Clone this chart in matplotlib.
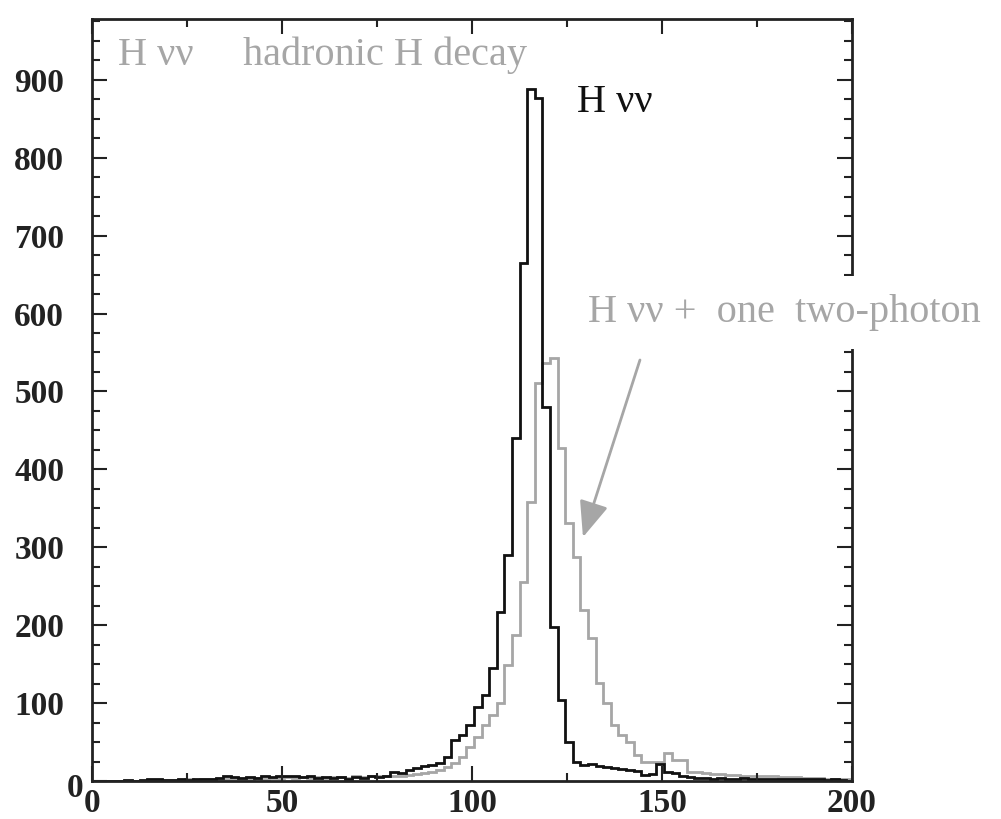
import numpy as np
import matplotlib
matplotlib.use("Agg")
import matplotlib.pyplot as plt
from matplotlib.transforms import ScaledTranslation

plt.rcParams['font.family'] = ['Liberation Serif', 'DejaVu Serif']

# bin edges (width 2) and contents
bin_edges = np.arange(-1.5, 201.0, 2.0)

# H vv, hadronic H decay (black)
h_had = [0, 0, 0, 0, 0, 1, 0, 1, 2, 3,
         1, 1, 2, 1, 2, 3, 2, 4, 6, 5,
         4, 5, 4, 7, 5, 6, 7, 6, 5, 6,
         4, 5, 4, 5, 3, 5, 4, 6, 5, 6,
         12, 10, 14, 17, 19, 21, 23, 31, 53, 59,
         72, 95, 110, 145, 217, 290, 440, 665, 888, 876,
         480, 198, 104, 50, 24, 20, 22, 19, 18, 17,
         15, 14, 13, 8, 9, 22, 12, 10, 6, 5,
         4, 4, 3, 4, 3, 3, 4, 2, 3, 3,
         2, 3, 2, 2, 3, 2, 2, 1, 2, 1, 0]

# H vv + one two-photon (grey)
h_gam = [0, 0, 0, 0, 0, 0, 0, 0, 1, 1,
         1, 1, 1, 2, 1, 2, 2, 2, 3, 3,
         3, 3, 4, 3, 4, 4, 5, 4, 5, 4,
         5, 4, 5, 5, 4, 6, 5, 6, 6, 7,
         6, 7, 8, 9, 10, 12, 14, 18, 23, 31,
         44, 57, 72, 85, 100, 149, 187, 255, 358, 511,
         537, 543, 427, 331, 287, 219, 183, 126, 100, 72,
         59, 50, 33, 24, 24, 24, 36, 27, 27, 12,
         11, 10, 9, 9, 8, 8, 7, 7, 6, 6,
         6, 5, 5, 5, 4, 4, 4, 3, 3, 3, 2]

grey = '#a6a6a6'
fig = plt.figure(figsize=(10.01, 8.19), dpi=100)
ax = fig.add_axes([92/1001, 38/819, 760/1001, 762/819])

ax.stairs(h_gam, bin_edges, color=grey, lw=2.0)
ax.stairs(h_had, bin_edges, color='#111111', lw=2.0)

ax.set_xlim(0, 200)
ax.set_ylim(0, 978)
ax.set_xticks(np.arange(0, 201, 50))
ax.set_xticks(np.arange(0, 201, 25), minor=True)
ax.set_yticks(np.arange(0, 901, 100))
ax.set_yticks(np.arange(0, 976, 25), minor=True)
ax.tick_params(which='both', direction='in', top=True, right=True, width=1.5, color='#222222')
ax.tick_params(which='major', length=11)
ax.tick_params(which='minor', length=5.5)
ax.tick_params(axis='y', pad=20)
ax.tick_params(axis='x', pad=5)
for lab in ax.get_xticklabels() + ax.get_yticklabels():
    lab.set_fontsize(24)
    lab.set_fontweight('bold')
    lab.set_color('#222222')
for sp in ax.spines.values():
    sp.set_linewidth(2.0)
    sp.set_color('#222222')

# the zero on the y axis sits further right in the original
ylab0 = ax.get_yticklabels()[0]
ylab0.set_transform(ylab0.get_transform() + ScaledTranslation(14/72, -3/72, fig.dpi_scale_trans))

ax.text(0.034, 0.940, 'H \u03bd\u03bd', transform=ax.transAxes, fontsize=29, color=grey, va='baseline')
ax.text(0.199, 0.940, 'hadronic H decay', transform=ax.transAxes, fontsize=29, color=grey, va='baseline')
ax.text(0.638, 0.878, 'H \u03bd\u03bd', transform=ax.transAxes, fontsize=29, color='#111111', va='baseline')
ax.text(0.653, 0.602, 'H \u03bd\u03bd +  one  two-photon', transform=ax.transAxes, fontsize=29,
        color=grey, va='baseline', zorder=5,
        bbox=dict(facecolor='white', edgecolor='none', pad=13))

ax.annotate('', xy=(0.646, 0.320), xytext=(0.721, 0.5525),
            xycoords='axes fraction', textcoords='axes fraction',
            arrowprops=dict(arrowstyle='-|>,head_length=1.1,head_width=0.45', mutation_scale=20,
                            color=grey, lw=2.0, shrinkA=0, shrinkB=0))

fig.savefig('out.png', dpi=100)
